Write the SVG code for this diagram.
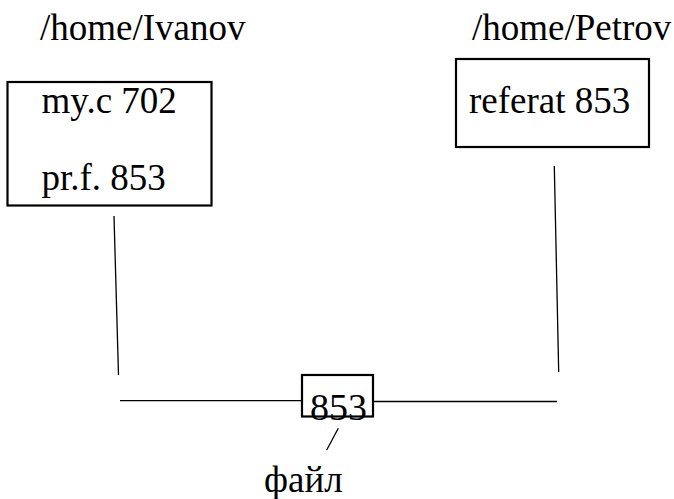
<svg xmlns="http://www.w3.org/2000/svg" width="674" height="499" viewBox="0 0 674 499">
<style>
.t{font-family:'Liberation Serif','Times New Roman',serif;font-size:37px;fill:#000}
.box{fill:#fff;stroke:#000;stroke-width:2.2}
.ln{stroke:#000;stroke-width:1.3;fill:none}
</style>
<rect width="674" height="499" fill="#fff"/>
<g id="connectors">
<line class="ln" x1="114" y1="216" x2="118.5" y2="375"/>
<line class="ln" x1="554.3" y1="166" x2="558.7" y2="372"/>
<line class="ln" x1="120" y1="400.7" x2="302" y2="400.7"/>
<line class="ln" x1="373" y1="401.5" x2="557" y2="401.5"/>
<line class="ln" x1="338.3" y1="428.3" x2="326.7" y2="450"/>
</g>
<g id="label-ivanov"><text class="t" x="40" y="40">/home/Ivanov</text></g>
<g id="label-petrov"><text class="t" x="472" y="40">/home/Petrov</text></g>
<g id="dir-ivanov">
<rect class="box" x="7.5" y="82" width="204" height="123.5"/>
<text class="t" x="41.5" y="113">my.c 702</text>
<text class="t" x="41.5" y="190">pr.f. 853</text>
</g>
<g id="dir-petrov">
<rect class="box" x="456" y="59" width="193" height="88"/>
<text class="t" x="469" y="113">referat 853</text>
</g>
<g id="inode">
<rect class="box" x="302" y="375" width="71" height="41.5"/>
<text class="t" style="font-size:38px" x="310" y="420">853</text>
</g>
<g id="label-file"><text class="t" x="264" y="492">файл</text></g>
</svg>
